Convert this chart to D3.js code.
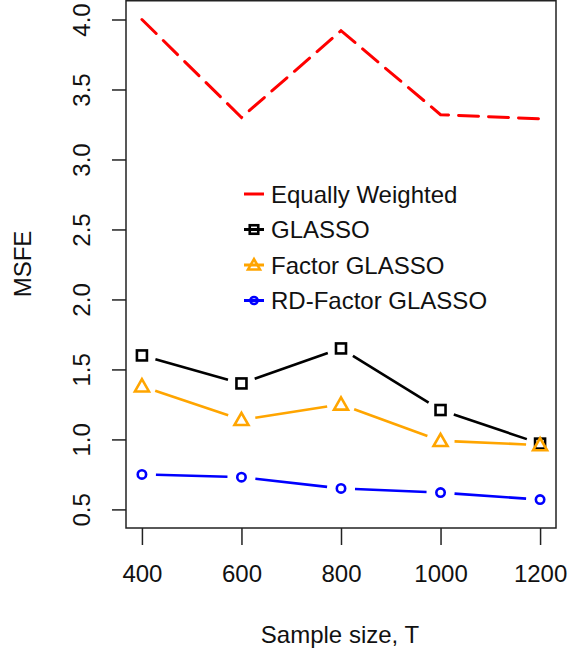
<!DOCTYPE html>
<html>
<head>
<meta charset="utf-8">
<script src="https://cdn.jsdelivr.net/npm/d3@7"></script>
<style>
  body { margin: 0; background: #fff; }
  text { font-family: "Liberation Sans", Arial, sans-serif; fill: #111; }
</style>
</head>
<body>
<svg id="chart"></svg>
<script>
const sampleSizes = [400, 600, 800, 1000, 1200];
const equallyWeighted = [4.00, 3.30, 3.92, 3.32, 3.29];
const glasso = [1.60, 1.40, 1.65, 1.21, 0.97];
const factorGlasso = [1.38, 1.14, 1.25, 0.99, 0.96];
const rdFactorGlasso = [0.75, 0.73, 0.65, 0.62, 0.57];
const yTicks = [0.5, 1.0, 1.5, 2.0, 2.5, 3.0, 3.5, 4.0];
const seriesNames = ["Equally Weighted", "GLASSO", "Factor GLASSO", "RD-Factor GLASSO"];

const width = 569, height = 654;
const svg = d3.select("#chart").attr("width", width).attr("height", height);

const x = d3.scaleLinear().domain([368, 1232]).range([126, 556]);
const y = d3.scaleLinear().domain([0.36, 4.14]).range([529, -0.1]);

const series = [
    {name: seriesNames[0], values: equallyWeighted, color: "#ff0000", symbol: null, dash: "20 10"},
    {name: seriesNames[1], values: glasso, color: "#000000", symbol: "square"},
    {name: seriesNames[2], values: factorGlasso, color: "#ffa500", symbol: "triangle"},
    {name: seriesNames[3], values: rdFactorGlasso, color: "#0000ff", symbol: "circle"}
];

function drawSymbol(g, type, cx, cy, color, s = 1) {
    if (type === "square") {
        g.append("rect")
            .attr("x", cx - 5 * s).attr("y", cy - 5 * s)
            .attr("width", 10 * s).attr("height", 10 * s)
            .attr("fill", "none").attr("stroke", color).attr("stroke-width", 2.6);
    } else if (type === "triangle") {
        const r = 7 * s;
        const pts = [[cx, cy - r], [cx + r, cy + r * 0.75], [cx - r, cy + r * 0.75]];
        g.append("polygon")
            .attr("points", pts.map(p => p.join(",")).join(" "))
            .attr("fill", "none").attr("stroke", color).attr("stroke-width", 2.6);
    } else if (type === "circle") {
        g.append("circle")
            .attr("cx", cx).attr("cy", cy).attr("r", 4.2 * s)
            .attr("fill", "none").attr("stroke", color).attr("stroke-width", 2.6);
    }
}

// lines
series.forEach(function(s) {
    const pts = sampleSizes.map((d, i) => [x(d), y(s.values[i])]);
    if (!s.symbol) {
        svg.append("path")
            .datum(pts)
            .attr("d", d3.line())
            .attr("fill", "none")
            .attr("stroke", s.color)
            .attr("stroke-width", 3)
            .attr("stroke-dasharray", s.dash)
            .attr("stroke-linecap", "round");
        return;
    }
    const gap = 14;
    for (let i = 0; i < pts.length - 1; i++) {
        const [x0, y0] = pts[i], [x1, y1] = pts[i + 1];
        const len = Math.hypot(x1 - x0, y1 - y0);
        const ux = (x1 - x0) / len, uy = (y1 - y0) / len;
        svg.append("line")
            .attr("x1", x0 + ux * gap).attr("y1", y0 + uy * gap)
            .attr("x2", x1 - ux * gap).attr("y2", y1 - uy * gap)
            .attr("stroke", s.color)
            .attr("stroke-width", 2.6);
    }
    pts.forEach(p => drawSymbol(svg, s.symbol, p[0], p[1], s.color));
});

// box
svg.append("rect")
    .attr("x", 126).attr("y", 0.75)
    .attr("width", 556 - 126).attr("height", 528 - 0.75)
    .attr("fill", "none").attr("stroke", "#222").attr("stroke-width", 1.5);

// x axis
const xAxis = svg.append("g")
    .attr("transform", "translate(0,528)")
    .call(d3.axisBottom(x).tickValues(sampleSizes).tickSize(17).tickPadding(20).tickFormat(d3.format("d")));
xAxis.select(".domain").remove();
xAxis.selectAll(".tick line").attr("stroke", "#222").attr("stroke-width", 1.5);
xAxis.selectAll(".tick text").attr("font-size", 24).attr("font-family", "Liberation Sans, Arial, sans-serif").attr("fill", "#111");

// y axis
const yAxis = svg.append("g")
    .attr("transform", "translate(126,0)")
    .call(d3.axisLeft(y).tickValues(yTicks).tickSize(14).tickFormat(d3.format(".1f")));
yAxis.select(".domain").remove();
yAxis.selectAll(".tick line").attr("stroke", "#222").attr("stroke-width", 1.5);
yAxis.selectAll(".tick text")
    .attr("font-size", 24).attr("font-family", "Liberation Sans, Arial, sans-serif").attr("fill", "#111")
    .attr("x", 0).attr("dy", null).attr("y", 0)
    .attr("text-anchor", "middle")
    .attr("transform", "translate(-36,0) rotate(-90)");

// axis titles
svg.append("text")
    .attr("x", 340).attr("y", 643)
    .attr("text-anchor", "middle")
    .attr("font-size", 24)
    .text("Sample size, T");

svg.append("text")
    .attr("transform", "translate(31,264) rotate(-90)")
    .attr("text-anchor", "middle")
    .attr("font-size", 24)
    .text("MSFE");

// legend
const legend = svg.append("g");
series.forEach(function(s, i) {
    const ly = 194 + i * 35.5;
    legend.append("line")
        .attr("x1", 244).attr("x2", 264)
        .attr("y1", ly).attr("y2", ly)
        .attr("stroke", s.color).attr("stroke-width", 3);
    if (s.symbol) drawSymbol(legend, s.symbol, 254, ly, s.color, 0.85);
    legend.append("text")
        .attr("x", 271).attr("y", ly + 8.5)
        .attr("font-size", 24)
        .text(s.name);
});
</script>
</body>
</html>
